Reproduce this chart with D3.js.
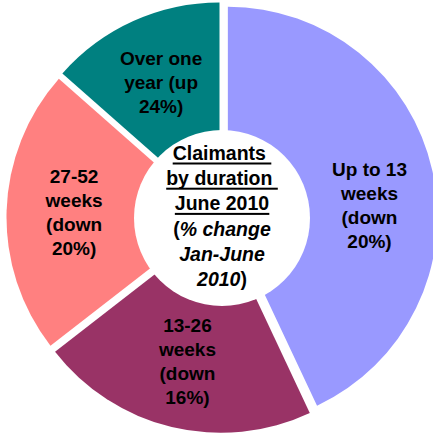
<!DOCTYPE html>
<html><head><meta charset="utf-8">
<script src="https://cdn.jsdelivr.net/npm/d3@7"></script>
<style>html,body{margin:0;padding:0;background:#fff;}svg{display:block;}</style>
</head><body>
<svg id="chart" width="433" height="433"></svg>
<script>
// Data
const categories = ["Up to 13 weeks", "13-26 weeks", "27-52 weeks", "Over one year"];
const shares = [43, 21.5, 22, 13.5];
const changeDir = ["down", "down", "down", "up"];
const changePct = [20, 16, 20, 24];
const labelLines = [
  ["Up to 13", "weeks", "(down", "20%)"],
  ["13-26", "weeks", "(down", "16%)"],
  ["27-52", "weeks", "(down", "20%)"],
  ["Over one", "year (up", "24%)"]
];
const colors = ["#9999FF", "#993366", "#FF8080", "#008080"];

const svg = d3.select("#chart");
const cx = 222, cy = 217.5, R = 209.5, holeR = 88, explode = 6;
const font = "'Liberation Sans', Arial, sans-serif";

const data = categories.map((c, i) => ({cat: c, value: shares[i], i}));
const pie = d3.pie().sort(null).value(d => d.value);
const arcs = pie(data);
const arc = d3.arc().innerRadius(0).outerRadius(R);
const color = d3.scaleOrdinal().domain(categories).range(colors);

const g = svg.append("g").attr("transform", `translate(${cx},${cy})`);

function off(a, r) {
  const m = (a.startAngle + a.endAngle) / 2;
  return [Math.sin(m) * r, -Math.cos(m) * r];
}

g.selectAll("path.slice").data(arcs).join("path")
  .attr("class", "slice")
  .attr("d", arc)
  .attr("fill", d => color(d.data.cat))
  .attr("transform", d => { const o = off(d, explode); return `translate(${o[0]},${o[1]})`; });

// centre hole
g.append("circle").attr("cx", 0).attr("cy", 0.5).attr("r", holeR).attr("fill", "#fff");

// slice labels
const lineH = 24;
const labelAdj = [[8, 0], [0, 0], [0, 0], [0, 0]]; // angular nudges (deg) for placement
arcs.forEach((a, k) => {
  const lines = labelLines[k];
  const m = (a.startAngle + a.endAngle) / 2 + labelAdj[k][0] * Math.PI / 180;
  const rr = 148;
  const px = Math.sin(m) * rr, py = -Math.cos(m) * rr;
  const t = g.append("text")
    .attr("text-anchor", "middle")
    .attr("font-family", font)
    .attr("font-weight", "bold")
    .attr("font-size", 19)
    .attr("fill", "#000");
  const y0 = py - (lines.length - 1) * lineH / 2 + 6.5;
  lines.forEach((ln, j) => {
    t.append("tspan").attr("x", px).attr("y", y0 + j * lineH).text(ln);
  });
});

// centre title
const title = svg.append("g").attr("font-family", font).attr("font-weight", "bold")
  .attr("font-size", 19.5).attr("fill", "#000").attr("text-anchor", "middle");
const tx = 222, tBase = 160, tLH = 25.2;
const titleLines = [
  {parts: [{t: "Claimants\u00a0", it: false}], ul: true},
  {parts: [{t: "by duration\u00a0", it: false}], ul: true},
  {parts: [{t: "June 2010", it: false}], ul: true},
  {parts: [{t: "(", it: false}, {t: "% change", it: true}], ul: false},
  {parts: [{t: "Jan-June", it: true}], ul: false},
  {parts: [{t: "2010", it: true}, {t: ")", it: false}], ul: false}
];
titleLines.forEach((L, j) => {
  const y = tBase + j * tLH;
  const t = title.append("text").attr("x", tx).attr("y", y);
  L.parts.forEach(p => t.append("tspan").attr("font-style", p.it ? "italic" : "normal").text(p.t));
  if (L.ul) {
    const bb = t.node().getBBox();
    title.append("rect").attr("x", bb.x).attr("y", y + 2.5).attr("width", bb.width).attr("height", 2).attr("fill", "#000");
  }
});
</script>
</body></html>
